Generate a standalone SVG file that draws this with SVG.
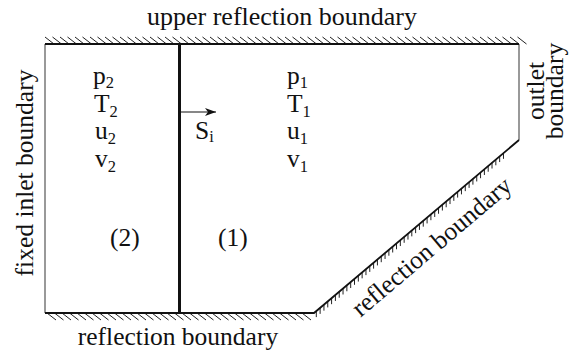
<svg xmlns="http://www.w3.org/2000/svg" width="569" height="354" viewBox="0 0 569 354">
<style>
text{font-family:"Liberation Serif","Times New Roman",serif;font-size:25.5px;fill:#111}
.sub{font-size:16.5px}
.wall{stroke:#111;stroke-width:1.8;fill:none}
.open{stroke:#777;stroke-width:1.5;fill:none}
.hatch{stroke:#222;stroke-width:1;fill:none}
</style>
<defs>
<marker id="arr" markerUnits="userSpaceOnUse" markerWidth="12" markerHeight="10" refX="11" refY="4.5" orient="auto">
<path d="M0,0.5 L11,4.5 L0,8.5 L3,4.5 Z" fill="#111"/>
</marker>
</defs>
<rect width="569" height="354" fill="#fff"/>
<g id="domain">
<path class="hatch" d="M45,37l9,7m-1.5,-7l9,7m-1.5,-7l9,7m-1.5,-7l9,7m-1.5,-7l9,7m-1.5,-7l9,7m-1.5,-7l9,7m-1.5,-7l9,7m-1.5,-7l9,7m-1.5,-7l9,7m-1.5,-7l9,7m-1.5,-7l9,7m-1.5,-7l9,7m-1.5,-7l9,7m-1.5,-7l9,7m-1.5,-7l9,7m-1.5,-7l9,7m-1.5,-7l9,7m-1.5,-7l9,7m-1.5,-7l9,7m-1.5,-7l9,7m-1.5,-7l9,7m-1.5,-7l9,7m-1.5,-7l9,7m-1.5,-7l9,7m-1.5,-7l9,7m-1.5,-7l9,7m-1.5,-7l9,7m-1.5,-7l9,7m-1.5,-7l9,7m-1.5,-7l9,7m-1.5,-7l9,7m-1.5,-7l9,7m-1.5,-7l9,7m-1.5,-7l9,7m-1.5,-7l9,7m-1.5,-7l9,7m-1.5,-7l9,7m-1.5,-7l9,7m-1.5,-7l9,7m-1.5,-7l9,7m-1.5,-7l9,7m-1.5,-7l9,7m-1.5,-7l9,7m-1.5,-7l9,7m-1.5,-7l9,7m-1.5,-7l9,7m-1.5,-7l9,7m-1.5,-7l9,7m-1.5,-7l9,7m-1.5,-7l9,7m-1.5,-7l9,7m-1.5,-7l9,7m-1.5,-7l9,7m-1.5,-7l9,7m-1.5,-7l9,7m-1.5,-7l9,7m-1.5,-7l9,7m-1.5,-7l9,7m-1.5,-7l9,7m-1.5,-7l9,7m-1.5,-7l9,7m-1.5,-7l9,7m-1.5,-7l9,7"/>
<path class="hatch" d="M47,313l9,7m-1.5,-7l9,7m-1.5,-7l9,7m-1.5,-7l9,7m-1.5,-7l9,7m-1.5,-7l9,7m-1.5,-7l9,7m-1.5,-7l9,7m-1.5,-7l9,7m-1.5,-7l9,7m-1.5,-7l9,7m-1.5,-7l9,7m-1.5,-7l9,7m-1.5,-7l9,7m-1.5,-7l9,7m-1.5,-7l9,7m-1.5,-7l9,7m-1.5,-7l9,7m-1.5,-7l9,7m-1.5,-7l9,7m-1.5,-7l9,7m-1.5,-7l9,7m-1.5,-7l9,7m-1.5,-7l9,7m-1.5,-7l9,7m-1.5,-7l9,7m-1.5,-7l9,7m-1.5,-7l9,7m-1.5,-7l9,7m-1.5,-7l9,7m-1.5,-7l9,7m-1.5,-7l9,7m-1.5,-7l9,7m-1.5,-7l9,7m-1.5,-7l9,7"/>
<path class="hatch" d="M316.3,311.1l0,6m3.82,-9.23l0,6m3.82,-9.23l0,6m3.82,-9.23l0,6m3.82,-9.23l0,6m3.82,-9.23l0,6m3.82,-9.23l0,6m3.82,-9.23l0,6m3.82,-9.23l0,6m3.82,-9.23l0,6m3.82,-9.23l0,6m3.82,-9.23l0,6m3.82,-9.23l0,6m3.82,-9.23l0,6m3.82,-9.23l0,6m3.82,-9.23l0,6m3.82,-9.23l0,6m3.82,-9.23l0,6m3.82,-9.23l0,6m3.82,-9.23l0,6m3.82,-9.23l0,6m3.82,-9.23l0,6m3.82,-9.23l0,6m3.82,-9.23l0,6m3.82,-9.23l0,6m3.82,-9.23l0,6m3.82,-9.23l0,6m3.82,-9.23l0,6m3.82,-9.23l0,6m3.82,-9.23l0,6m3.82,-9.23l0,6m3.82,-9.23l0,6m3.82,-9.23l0,6m3.82,-9.23l0,6m3.82,-9.23l0,6m3.82,-9.23l0,6m3.82,-9.23l0,6m3.82,-9.23l0,6m3.82,-9.23l0,6m3.82,-9.23l0,6m3.82,-9.23l0,6m3.82,-9.23l0,6m3.82,-9.23l0,6m3.82,-9.23l0,6m3.82,-9.23l0,6m3.82,-9.23l0,6m3.82,-9.23l0,6m3.82,-9.23l0,6m3.82,-9.23l0,6m3.82,-9.23l0,6"/>
<path class="open" d="M45,44V313"/>
<path class="open" d="M519,44V140"/>
<path class="wall" d="M45,44H519"/>
<path class="wall" d="M45,313H314L519,140"/>
<path d="M179.5,44V313" stroke="#111" stroke-width="3" fill="none"/>
</g>
<g id="shock">
<path d="M180,112H216" stroke="#111" stroke-width="1.2" fill="none" marker-end="url(#arr)"/>
<text x="195" y="139">S<tspan class="sub" dy="3">i</tspan></text>
</g>
<g id="region2">
<text x="93" y="84">p<tspan class="sub" dy="4">2</tspan></text>
<text x="94" y="111.5">T<tspan class="sub" dy="5">2</tspan></text>
<text x="95" y="139">u<tspan class="sub" dy="5">2</tspan></text>
<text x="95" y="166.5">v<tspan class="sub" dy="5">2</tspan></text>
<text x="110" y="246">(2)</text>
</g>
<g id="region1">
<text x="287" y="84">p<tspan class="sub" dy="4">1</tspan></text>
<text x="287" y="111.5">T<tspan class="sub" dy="5">1</tspan></text>
<text x="287" y="139">u<tspan class="sub" dy="5">1</tspan></text>
<text x="287" y="166.5">v<tspan class="sub" dy="5">1</tspan></text>
<text x="218" y="246">(1)</text>
</g>
<g id="labels">
<text x="282" y="25" text-anchor="middle" style="font-size:26px">upper reflection boundary</text>
<text x="178" y="345" text-anchor="middle">reflection boundary</text>
<text transform="translate(33,173) rotate(-90)" text-anchor="middle">fixed inlet boundary</text>
<text transform="translate(544,91) rotate(-90)" text-anchor="middle">outlet</text>
<text transform="translate(563,91) rotate(-90)" text-anchor="middle">boundary</text>
<text transform="translate(437,253) rotate(-40.2)" text-anchor="middle">reflection boundary</text>
</g>
</svg>
